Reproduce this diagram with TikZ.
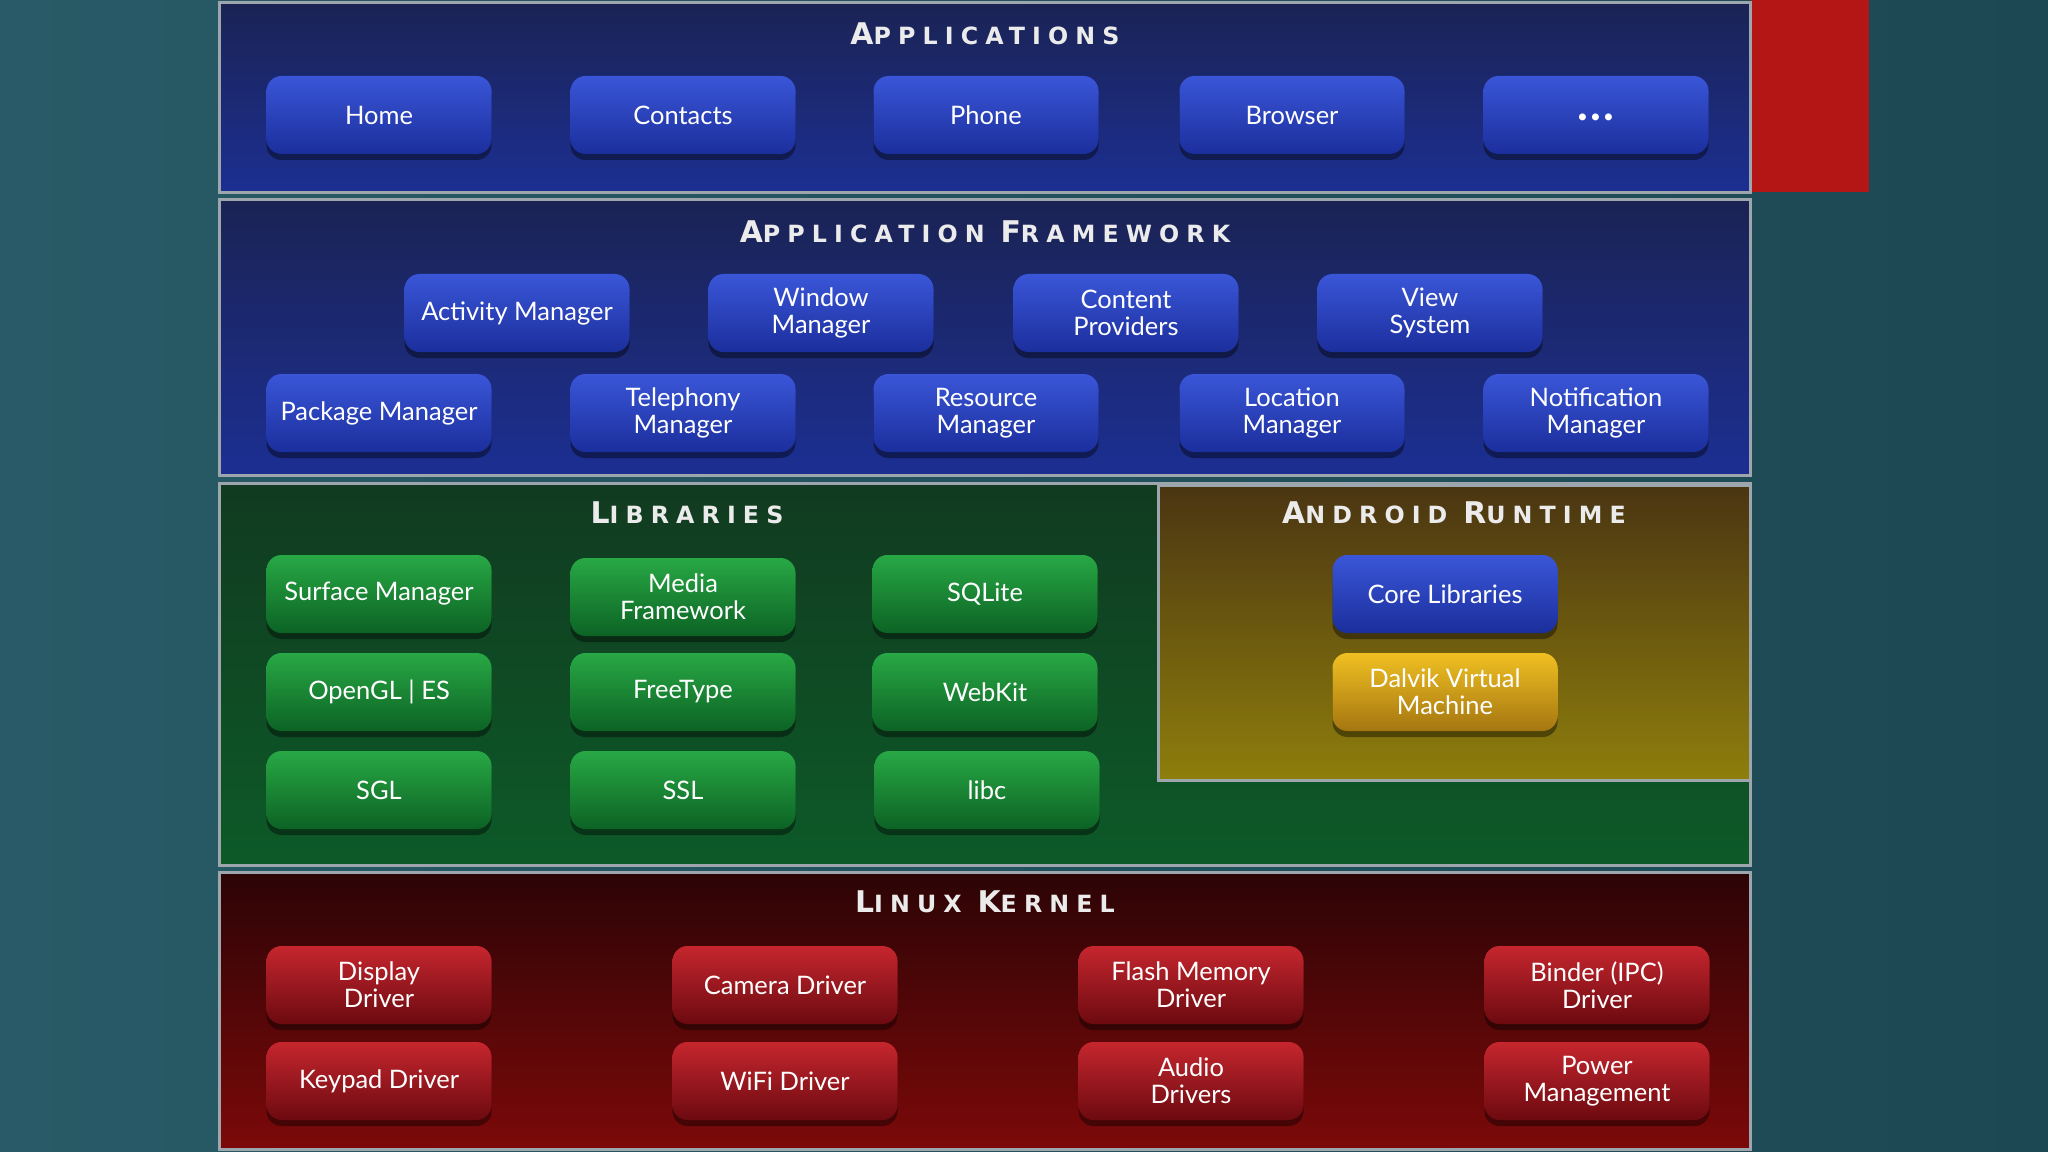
\documentclass[tikz,border=0pt]{standalone}
\usepackage{fontspec}
\setmainfont{Lato}
\newfontfamily\titlefont[LetterSpace=30]{DejaVu Sans}
\usetikzlibrary{positioning,fit,shadows}

\definecolor{bgtealleft}{HTML}{285B67}
\definecolor{bgtealright}{HTML}{1C4853}
\definecolor{panelrim}{HTML}{9CA6AC}
\definecolor{slidered}{HTML}{B41616}
\definecolor{navytop}{HTML}{1B2354}
\definecolor{navybot}{HTML}{1C2F92}
\definecolor{foresttop}{HTML}{113A20}
\definecolor{forestbot}{HTML}{0D5A28}
\definecolor{olivetop}{HTML}{4A3512}
\definecolor{olivebot}{HTML}{8E7E0C}
\definecolor{kerneltop}{HTML}{2C0406}
\definecolor{kernelbot}{HTML}{7C0909}
\definecolor{btnbluetop}{HTML}{3A56D8}
\definecolor{btnbluebot}{HTML}{1B2E9C}
\definecolor{btngreentop}{HTML}{28A845}
\definecolor{btngreenbot}{HTML}{0C6324}
\definecolor{btnredtop}{HTML}{C6262E}
\definecolor{btnredbot}{HTML}{6C0A10}
\definecolor{btngoldtop}{HTML}{F0C022}
\definecolor{btngoldbot}{HTML}{A47610}

\tikzset{
  layer/.style={
      draw=panelrim,
      line width=0.6mm,
      inner sep=0pt,
  },
  btn/.style={
      rounded corners=3mm,
      minimum width=45mm,
      minimum height=15.6mm,
      inner sep=0pt,
      align=center,
      text=white,
      font=\fontsize{14.5}{15.5}\selectfont,
      drop shadow={shadow xshift=0mm, shadow yshift=-1.2mm, opacity=0.4, fill=black},
  },
  bluebtn/.style={btn, top color=btnbluetop, bottom color=btnbluebot},
  greenbtn/.style={btn, top color=btngreentop, bottom color=btngreenbot},
  redbtn/.style={btn, top color=btnredtop, bottom color=btnredbot},
  goldbtn/.style={btn, top color=btngoldtop, bottom color=btngoldbot},
  layertitle/.style={
      text=white!92!black,
      font=\titlefont\bfseries,
  },
}
\newcommand{\capword}[2]{%
    {\fontsize{17}{17}\selectfont #1}{\fontsize{13.5}{17}\selectfont #2}}
\newcommand{\wordgap}{\hspace{0.9em}}

\begin{document}
\begin{tikzpicture}[x=0.2mm,y=-0.2mm]
  \useasboundingbox (0,0) rectangle (2048,1152);
  \node[fit={(0,0) (2048,1152)}, inner sep=0pt,
        left color=bgtealleft, right color=bgtealright] (bg) {};

  % layers
  \node[fit={(1751,0) (1869,192)}, inner sep=0pt, fill=slidered] (redtab) {};
  \node[layer, fit={(219,3) (1750,193)}, top color=navytop, bottom color=navybot] (apps) {};
  \node[layer, fit={(219,200) (1750,475)}, top color=navytop, bottom color=navybot] (fw) {};
  \node[layer, fit={(219,483) (1750,865)}, top color=foresttop, bottom color=forestbot] (libs) {};
  \node[layer, fit={(1158,485) (1750,780)}, top color=olivetop, bottom color=olivebot] (rt) {};
  \node[layer, fit={(219,872) (1750,1149)}, top color=kerneltop, bottom color=kernelbot] (kernel) {};

  % titles
  \node[layertitle] (appstitle) at (985,34) {\capword{A}{PPLICATIONS}};
  \node[layertitle] (fwtitle) at (985,232) {\capword{A}{PPLICATION}\wordgap\capword{F}{RAMEWORK}};
  \node[layertitle] (libstitle) at (687,513) {\capword{L}{IBRARIES}};
  \node[layertitle] (rttitle) at (1454,513) {\capword{A}{NDROID}\wordgap\capword{R}{UNTIME}};
  \node[layertitle] (kerneltitle) at (985,902) {\capword{L}{INUX}\wordgap\capword{K}{ERNEL}};

  % applications
  \node[bluebtn] (app1) at (379,115) {Home};
  \node[bluebtn] (app2) at (683,115) {Contacts};
  \node[bluebtn] (app3) at (986,115) {Phone};
  \node[bluebtn] (app4) at (1292,115) {Browser};
  \node[bluebtn] (app5) at (1596,115)
      {\raisebox{-2.3mm}{\fontsize{26}{26}\selectfont\bfseries .\kern1.2pt.\kern1.2pt.}};

  % application framework
  \node[bluebtn] (fw1) at (517,313) {Activity Manager};
  \node[bluebtn] (fw2) at (821,313) {Window\\Manager};
  \node[bluebtn] (fw3) at (1126,313) {Content\\Providers};
  \node[bluebtn] (fw4) at (1430,313) {View\\System};
  \node[bluebtn] (fw5) at (379,413) {Package Manager};
  \node[bluebtn] (fw6) at (683,413) {Telephony\\Manager};
  \node[bluebtn] (fw7) at (986,413) {Resource\\Manager};
  \node[bluebtn] (fw8) at (1292,413) {Location\\Manager};
  \node[bluebtn] (fw9) at (1596,413) {Notification\\Manager};

  % libraries
  \node[greenbtn] (lib1) at (379,594) {Surface Manager};
  \node[greenbtn] (lib2) at (683,597) {Media\\Framework};
  \node[greenbtn] (lib3) at (985,594) {SQLite};
  \node[greenbtn] (lib4) at (379,692) {OpenGL | ES};
  \node[greenbtn] (lib5) at (683,692) {FreeType};
  \node[greenbtn] (lib6) at (985,692) {WebKit};
  \node[greenbtn] (lib7) at (379,790) {SGL};
  \node[greenbtn] (lib8) at (683,790) {SSL};
  \node[greenbtn] (lib9) at (987,790) {libc};

  % android runtime
  \node[bluebtn] (rt1) at (1445,594) {Core Libraries};
  \node[goldbtn] (rt2) at (1445,692) {Dalvik Virtual\\Machine};

  % linux kernel
  \node[redbtn] (drv1) at (379,985) {Display\\Driver};
  \node[redbtn] (drv2) at (785,985) {Camera Driver};
  \node[redbtn] (drv3) at (1191,985) {Flash Memory\\Driver};
  \node[redbtn] (drv4) at (1597,985) {Binder (IPC)\\Driver};
  \node[redbtn] (drv5) at (379,1081) {Keypad Driver};
  \node[redbtn] (drv6) at (785,1081) {WiFi Driver};
  \node[redbtn] (drv7) at (1191,1081) {Audio\\Drivers};
  \node[redbtn] (drv8) at (1597,1081) {Power\\Management};
\end{tikzpicture}
\end{document}
